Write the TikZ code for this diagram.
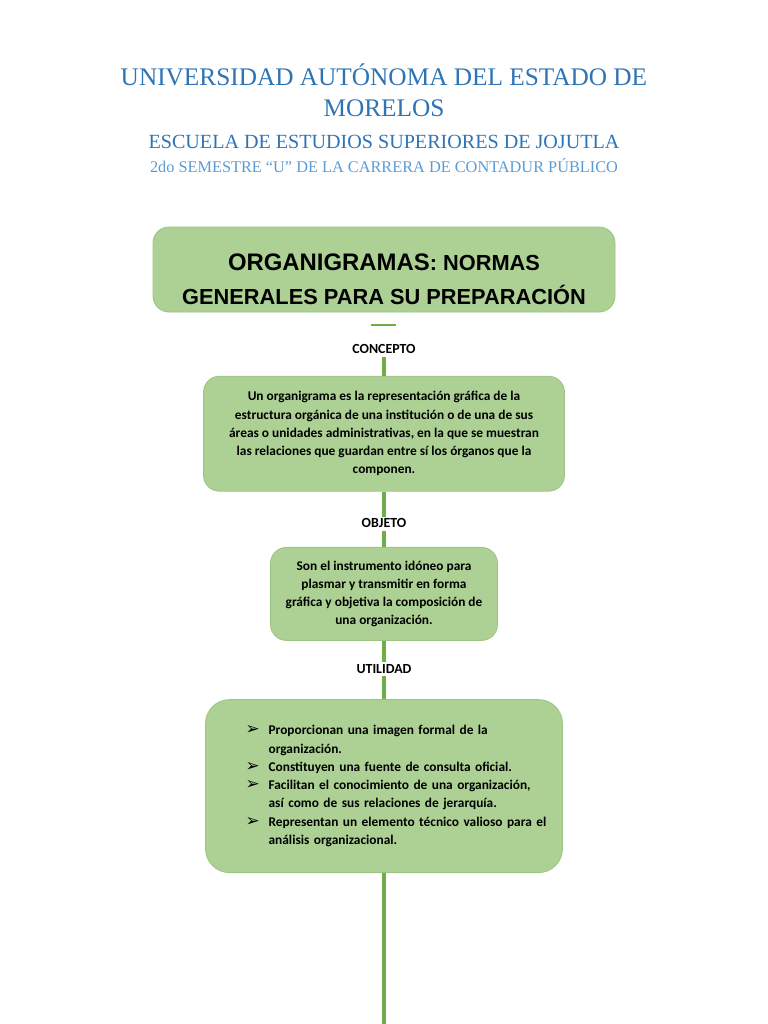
\documentclass[tikz,border=0pt]{standalone}
\usepackage{fontspec}
\setmainfont{Liberation Serif}
\newfontfamily\bodyfont{Carlito}
\newfontfamily\headfont{Liberation Sans}
\newfontfamily\symfont{DejaVu Sans}
\usepackage{tikz}
\usetikzlibrary{positioning, calc}
\definecolor{uaem}{HTML}{2E74B5}
\definecolor{uaemlight}{HTML}{5B9BD5}
\definecolor{boxfill}{HTML}{ADD194}
\definecolor{boxline}{HTML}{9CC484}
\definecolor{stemgreen}{HTML}{70AD47}
\newcommand{\itemmark}{\hspace*{0.79cm}\makebox[0.575cm][l]{\symfont\fontsize{12}{13}\selectfont ➢}}
\newcommand{\itemrest}{\hspace*{1.365cm}}
\tikzset{
    box/.style={rectangle, rounded corners=0.4cm, draw=boxline, line width=0.6pt, fill=boxfill,
                align=center, inner sep=4pt, font=\bodyfont\bfseries\fontsize{9.5}{13}\selectfont},
    titlebox/.style={box, font=\headfont\bfseries\fontsize{15.5}{24.2}\selectfont},
    listbox/.style={box, align=left, rounded corners=0.6cm},
    tag/.style={font=\bodyfont\bfseries\fontsize{9.9}{12}\selectfont, inner sep=0.05cm,
                text height=0.225cm, text depth=0.02cm},
    hdr/.style={text=uaem, font=\fontsize{18}{22}\selectfont, anchor=base},
    stem/.style={draw=stemgreen, line width=2.2pt},
}

\begin{document}
\begin{tikzpicture}

  \useasboundingbox (0,0) rectangle (19.2,-25.6);

  \node[hdr] (uni) at (9.6,-2.125) {UNIVERSIDAD AUTÓNOMA DEL ESTADO DE};
  \node[hdr] (state) at (9.6,-2.9) {MORELOS};
  \node[hdr, font=\fontsize{14.3}{17}\selectfont] (school) at (9.6,-3.7)
       {ESCUELA DE ESTUDIOS SUPERIORES DE JOJUTLA};
  \node[hdr, text=uaemlight, font=\fontsize{11.6}{14}\selectfont] (semester) at (9.6,-4.3)
       {2do SEMESTRE “U” DE LA CARRERA DE CONTADUR PÚBLICO};

  \node[titlebox, minimum width=11.55cm, minimum height=2.125cm] (topic) at (9.6,-6.7375)
       {\rule{0pt}{25.5pt}{\fontsize{17}{24.2}\selectfont ORGANIGRAMAS}: NORMAS\\GENERALES PARA SU PREPARACIÓN};
  \draw[stem, line width=1.4pt] ($(topic.south)+(-0.3375,-0.325)$) -- ($(topic.south)+(0.2875,-0.325)$);

  \node[tag, below=0.75cm of topic] (concepto) {CONCEPTO};
  \node[box, below=0.475cm of concepto, minimum width=9.025cm, minimum height=2.875cm] (defbox)
       {Un organigrama es la representación gráfica de la\\estructura orgánica de una institución o de una de sus\\áreas o unidades administrativas, en la que se muestran\\las relaciones que guardan entre sí los órganos que la\\componen.};

  \node[tag, below=0.625cm of defbox] (objeto) {OBJETO};
  \node[box, below=0.4cm of objeto, minimum width=5.675cm, minimum height=2.325cm] (aimbox)
       {Son el instrumento idóneo para\\plasmar y transmitir en forma\\gráfica y objetiva la composición de\\una organización.};

  \node[tag, below=0.525cm of aimbox] (utilidad) {UTILIDAD};
  \node[listbox, below=0.575cm of utilidad, minimum width=8.925cm, minimum height=4.325cm,
        text width=8.5cm] (usebox)
       {\itemmark Proporcionan una imagen formal de la\\
        \itemrest organización.\\
        \itemmark Constituyen una fuente de consulta oficial.\\
        \itemmark Facilitan el conocimiento de una organización,\\
        \itemrest así como de sus relaciones de jerarquía.\\
        \itemmark Representan un elemento técnico valioso para el\\
        \itemrest análisis organizacional.};

  \coordinate (pagefoot) at (usebox.south |- 0,-25.6);

  \draw[stem] (concepto.south) -- (defbox.north);
  \draw[stem] (defbox.south) -- (objeto.north);
  \draw[stem] (objeto.south) -- (aimbox.north);
  \draw[stem] (aimbox.south) -- (utilidad.north);
  \draw[stem] (utilidad.south) -- (usebox.north);
  \draw[stem] (usebox.south) -- (pagefoot);

\end{tikzpicture}
\end{document}
